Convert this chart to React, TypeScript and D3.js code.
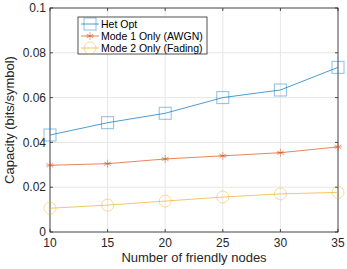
import React, { useEffect, useRef } from 'react';
import * as d3 from 'd3';

const nodes = [10, 15, 20, 25, 30, 35];
const hetOpt = [0.0433, 0.0488, 0.053, 0.06, 0.0634, 0.0735];
const mode1 = [0.0298, 0.0305, 0.0326, 0.034, 0.0354, 0.038];
const mode2 = [0.0106, 0.012, 0.0138, 0.0156, 0.017, 0.0177];
const yTicks = [0, 0.02, 0.04, 0.06, 0.08, 0.1];
const seriesNames = ['Het Opt', 'Mode 1 Only (AWGN)', 'Mode 2 Only (Fading)'];

const App: React.FC = () => {
    const svgRef = useRef<SVGSVGElement>(null);

    useEffect(() => {
        if (!svgRef.current) return;
        const svg = d3.select(svgRef.current);
        svg.selectAll("*").remove();

        const width = 347;
        const height = 269;
        const m = { left: 50, right: 9, top: 8, bottom: 37 };
        const font = "'Liberation Sans', Arial, sans-serif";

        const x = d3.scaleLinear().domain([10, 35]).range([m.left, width - m.right]);
        const y = d3.scaleLinear().domain([0, 0.1]).range([height - m.bottom, m.top]);

        svg.attr("width", width).attr("height", height);
        svg.append("rect").attr("width", width).attr("height", height).attr("fill", "#fff");

        // Grid
        const g = svg.append("g");
        nodes.forEach(n => {
            g.append("line").attr("x1", x(n)).attr("x2", x(n))
                .attr("y1", y(0)).attr("y2", y(0.1))
                .attr("stroke", "#e6e6e6").attr("stroke-width", 1);
        });
        yTicks.forEach(t => {
            g.append("line").attr("x1", x(10)).attr("x2", x(35))
                .attr("y1", y(t)).attr("y2", y(t))
                .attr("stroke", "#e6e6e6").attr("stroke-width", 1);
        });

        // Box
        svg.append("rect")
            .attr("x", x(10)).attr("y", y(0.1))
            .attr("width", x(35) - x(10)).attr("height", y(0) - y(0.1))
            .attr("fill", "none").attr("stroke", "#262626").attr("stroke-width", 0.8);

        // Ticks
        nodes.forEach(n => {
            svg.append("line").attr("x1", x(n)).attr("x2", x(n)).attr("y1", y(0)).attr("y2", y(0) - 3)
                .attr("stroke", "#262626").attr("stroke-width", 0.8);
            svg.append("line").attr("x1", x(n)).attr("x2", x(n)).attr("y1", y(0.1)).attr("y2", y(0.1) + 3)
                .attr("stroke", "#262626").attr("stroke-width", 0.8);
            svg.append("text").attr("x", x(n)).attr("y", y(0) + 15)
                .attr("text-anchor", "middle").style("font-family", font).style("font-size", "12px")
                .attr("fill", "#262626").text(n);
        });
        yTicks.forEach(t => {
            svg.append("line").attr("x1", x(10)).attr("x2", x(10) + 3).attr("y1", y(t)).attr("y2", y(t))
                .attr("stroke", "#262626").attr("stroke-width", 0.8);
            svg.append("line").attr("x1", x(35)).attr("x2", x(35) - 3).attr("y1", y(t)).attr("y2", y(t))
                .attr("stroke", "#262626").attr("stroke-width", 0.8);
            svg.append("text").attr("x", x(10) - 4).attr("y", y(t)).attr("dy", "0.35em")
                .attr("text-anchor", "end").style("font-family", font).style("font-size", "12px")
                .attr("fill", "#262626").text(t === 0 ? "0" : String(t));
        });

        // Labels
        svg.append("text").attr("x", (x(10) + x(35)) / 2).attr("y", height - 7)
            .attr("text-anchor", "middle").style("font-family", font).style("font-size", "13px")
            .attr("fill", "#262626").text("Number of friendly nodes");
        svg.append("text")
            .attr("transform", `translate(14,${(y(0) + y(0.1)) / 2}) rotate(-90)`)
            .attr("text-anchor", "middle").style("font-family", font).style("font-size", "13px")
            .attr("fill", "#262626").text("Capacity (bits/symbol)");

        const colors = ['#0072BD', '#D95319', '#EDB120'];
        const data = [hetOpt, mode1, mode2];
        const line = d3.line<number>().x((_, i) => x(nodes[i])).y(d => y(d));

        const drawMarker = (sel: d3.Selection<SVGGElement, unknown, null, undefined>, k: number, cx: number, cy: number, c: string) => {
            if (k === 0) {
                sel.append("rect").attr("x", cx - 6).attr("y", cy - 6).attr("width", 12).attr("height", 12)
                    .attr("fill", "none").attr("stroke", c).attr("stroke-opacity", 0.45).attr("stroke-width", 1);
            } else if (k === 1) {
                const r = 4;
                [0, 60, 120].forEach(a => {
                    const rad = (a * Math.PI) / 180;
                    sel.append("line")
                        .attr("x1", cx - r * Math.sin(rad)).attr("y1", cy - r * Math.cos(rad))
                        .attr("x2", cx + r * Math.sin(rad)).attr("y2", cy + r * Math.cos(rad))
                        .attr("stroke", c).attr("stroke-opacity", 0.5).attr("stroke-width", 1);
                });
                sel.append("line").attr("x1", cx - r).attr("x2", cx + r).attr("y1", cy).attr("y2", cy)
                    .attr("stroke", c).attr("stroke-opacity", 0.5).attr("stroke-width", 1);
            } else {
                sel.append("circle").attr("cx", cx).attr("cy", cy).attr("r", 6)
                    .attr("fill", "none").attr("stroke", c).attr("stroke-opacity", 0.45).attr("stroke-width", 1);
            }
        };

        data.forEach((vals, k) => {
            svg.append("path").datum(vals).attr("d", line)
                .attr("fill", "none").attr("stroke", colors[k]).attr("stroke-opacity", 0.7).attr("stroke-width", 1);
            const mg = svg.append("g");
            vals.forEach((v, i) => drawMarker(mg, k, x(nodes[i]), y(v), colors[k]));
        });

        // Legend
        const lx = 78, ly = 17, lw = 129, lh = 37;
        svg.append("rect").attr("x", lx).attr("y", ly).attr("width", lw).attr("height", lh)
            .attr("fill", "#fff").attr("stroke", "#262626").attr("stroke-width", 0.8);
        seriesNames.forEach((name, k) => {
            const yy = ly + 7 + k * 12;
            svg.append("line").attr("x1", lx + 3).attr("x2", lx + 21).attr("y1", yy).attr("y2", yy)
                .attr("stroke", colors[k]).attr("stroke-opacity", 0.7).attr("stroke-width", 1);
            const mg = svg.append("g");
            drawMarker(mg, k, lx + 12, yy, colors[k]);
            svg.append("text").attr("x", lx + 23).attr("y", yy).attr("dy", "0.35em")
                .style("font-family", font).style("font-size", "10.5px").attr("fill", "#000").text(name);
        });
    }, []);

    return <svg ref={svgRef} style={{ position: 'absolute', left: 0, top: 0 }} />;
};

export default App;
